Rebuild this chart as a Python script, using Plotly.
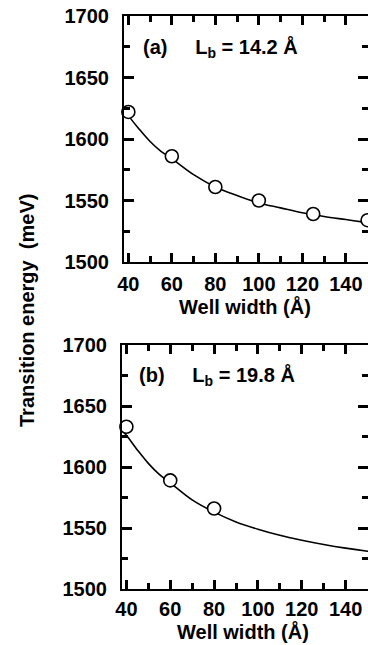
import plotly.graph_objects as go

# Panel (a): L_b = 14.2 Å
a_well = [40, 60, 80, 100, 125, 150]
a_energy = [1622, 1586, 1561, 1550, 1539, 1534]
a_fit_x = [38, 40, 45, 50, 55, 60, 70, 80, 90, 100, 110, 120, 130, 140, 150, 152]
a_fit_y = [1624, 1619, 1608, 1598, 1590, 1584, 1571, 1561, 1554, 1548, 1544, 1540, 1537, 1534.5, 1532, 1531.6]

# Panel (b): L_b = 19.8 Å
b_well = [40, 60, 80]
b_energy = [1633, 1589, 1566]
b_fit_x = [38, 40, 45, 50, 55, 60, 70, 80, 90, 100, 110, 120, 130, 140, 150, 152]
b_fit_y = [1630, 1626, 1614, 1603, 1594, 1587, 1573, 1563, 1555, 1549, 1544, 1540, 1536.5, 1533.5, 1531, 1530.6]

x_ticks = [40, 60, 80, 100, 120, 140]
x_minor = [50, 70, 90, 110, 130, 150]
y_ticks = [1500, 1550, 1600, 1650, 1700]
y_minor = [1525, 1575, 1625, 1675]

W, H = 368, 645
FONT = "Liberation Sans, Arial, Helvetica, sans-serif"
XR = [38, 150.2]
YR = [1500, 1700]

dom = {
    "a": dict(x=[124 / W, 1.0], y=[1 - 262 / H, 1 - 16 / H]),
    "b": dict(x=[122 / W, 1.0], y=[1 - 589 / H, 1 - 345 / H]),
}

fig = go.Figure()
for key, fx, fy, px_, py_, xa, ya in [
    ("a", a_fit_x, a_fit_y, a_well, a_energy, "x", "y"),
    ("b", b_fit_x, b_fit_y, b_well, b_energy, "x2", "y2"),
]:
    fig.add_trace(go.Scatter(x=fx, y=fy, mode="lines", line=dict(color="black", width=1.6, shape="spline"),
                             xaxis=xa, yaxis=ya, showlegend=False, hoverinfo="skip"))
    fig.add_trace(go.Scatter(x=px_, y=py_, mode="markers",
                             marker=dict(symbol="circle", size=13, color="white",
                                         line=dict(color="black", width=1.6)),
                             xaxis=xa, yaxis=ya, showlegend=False, cliponaxis=False))

tf = dict(family=FONT, size=20, color="black", weight="bold")

def xax(domain, anchor, standoff):
    return dict(domain=domain, anchor=anchor, range=XR, automargin=False,
                tickmode="array", tickvals=x_ticks, ticktext=[str(v) for v in x_ticks],
                ticks="inside", ticklen=9, tickwidth=2.5, tickcolor="black",
                minor=dict(tickvals=x_minor, ticks="inside", ticklen=6, tickwidth=2.5, tickcolor="black"),
                showline=True, linecolor="black", linewidth=2, mirror="allticks",
                showgrid=False, zeroline=False, ticklabelstandoff=standoff, tickfont=tf)

def yax(domain, anchor):
    return dict(domain=domain, anchor=anchor, range=YR, automargin=False,
                tickmode="array", tickvals=y_ticks, ticktext=[str(v) for v in y_ticks],
                ticks="inside", ticklen=10, tickwidth=2.5, tickcolor="black",
                minor=dict(tickvals=y_minor, ticks="inside", ticklen=6, tickwidth=2.5, tickcolor="black"),
                showline=True, linecolor="black", linewidth=2, mirror="allticks",
                showgrid=False, zeroline=False, ticklabelstandoff=9, tickfont=tf)

fig.update_layout(
    width=W, height=H, margin=dict(l=0, r=0, t=0, b=0),
    paper_bgcolor="white", plot_bgcolor="white",
    xaxis=xax(dom["a"]["x"], "y", 3),
    yaxis=yax(dom["a"]["y"], "x"),
    xaxis2=xax(dom["b"]["x"], "y2", 1),
    yaxis2=yax(dom["b"]["y"], "x2"),
)

ann_font = dict(family=FONT, size=20, color="black", weight="bold")
fig.add_annotation(x=245 / W, y=1 - 306 / H, xref="paper", yref="paper", text="Well width (Å)",
                   showarrow=False, font=ann_font, xanchor="center", yanchor="middle")
fig.add_annotation(x=243 / W, y=1 - 631 / H, xref="paper", yref="paper", text="Well width (Å)",
                   showarrow=False, font=ann_font, xanchor="center", yanchor="middle")
fig.add_annotation(x=27 / W, y=1 - 311 / H, xref="paper", yref="paper", text="Transition energy  (meV)",
                   showarrow=False, font=ann_font, textangle=-90, xanchor="center", yanchor="middle")
fig.add_annotation(x=141 / W, y=1 - 48 / H, xref="paper", yref="paper",
                   text="(a)     L<sub>b</sub> = 14.2 Å", showarrow=False, font=ann_font,
                   xanchor="left", yanchor="middle")
fig.add_annotation(x=137 / W, y=1 - 376 / H, xref="paper", yref="paper",
                   text="(b)     L<sub>b</sub> = 19.8 Å", showarrow=False, font=ann_font,
                   xanchor="left", yanchor="middle")

fig.write_html("out.html")
